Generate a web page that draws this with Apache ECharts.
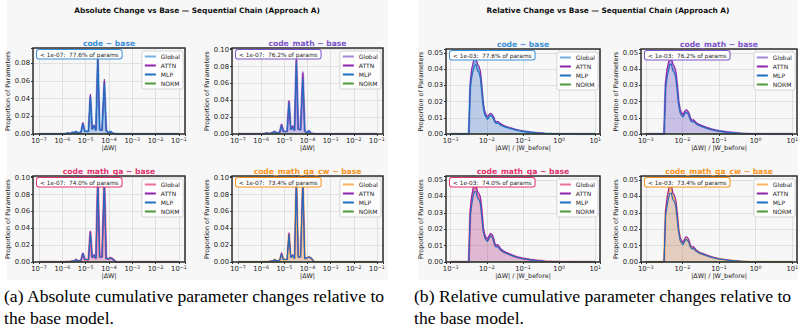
<!DOCTYPE html>
<html>
<head>
<meta charset="utf-8">
<script src="https://cdn.jsdelivr.net/npm/echarts@6/dist/echarts.min.js"></script>
<style>
  html, body { margin: 0; padding: 0; background: #fff; }
  #chart { width: 805px; height: 334px; }
</style>
</head>
<body>
<div id="chart"></div>
<script>
// bin centres as log10 of the x value
const ABS_BINS = [-7.0, -6.0, -5.9, -5.78, -5.66, -5.56, -5.48, -5.42, -5.34, -5.2, -5.12, -5.04, -4.88, -4.8,
  -4.72, -4.64, -4.56, -4.48, -4.4, -4.3, -4.2, -4.12, -4.02, -3.94, -3.86, -3.7, -3.0, -2.0, -1.0]
const REL_BINS = [-3.0, -2.6, -2.5, -2.46, -2.42, -2.38, -2.34, -2.3, -2.26, -2.22, -2.18, -2.14, -2.1, -2.06,
  -2.02, -1.98, -1.94, -1.9, -1.86, -1.82, -1.78, -1.74, -1.7, -1.66, -1.62, -1.56, -1.5, -1.4, -1.3, -1.2,
  -1.1, -1.0, -0.8, -0.6, -0.4, -0.2, 0.0, 0.2, 0.5, 1.0]

// absolute change |dW|
const ABS_CODE_GLOBAL = [0, 0, 0, 0.001, 0.0005, 0.002, 0.001, 0.003, 0.001, 0.002, 0.012, 0.003, 0.003, 0.043,
  0.005, 0.010, 0.004, 0.087, 0.005, 0.004, 0.059, 0.004, 0.001, 0.003, 0.001, 0, 0, 0, 0]
const ABS_CODE_ATTN = [0, 0, 0, 0.001, 0.0005, 0.002, 0.001, 0.003, 0.001, 0.002, 0.013, 0.003, 0.003, 0.045,
  0.005, 0.010, 0.004, 0.090, 0.005, 0.004, 0.062, 0.004, 0.001, 0.003, 0.001, 0, 0, 0, 0]
const ABS_CODE_MLP = [0, 0, 0, 0.001, 0.0005, 0.002, 0.001, 0.003, 0.001, 0.002, 0.011, 0.003, 0.003, 0.041,
  0.005, 0.009, 0.004, 0.084, 0.005, 0.004, 0.056, 0.004, 0.001, 0.003, 0.001, 0, 0, 0, 0]

const ABS_MATH_GLOBAL = [0, 0, 0, 0.001, 0.0005, 0.001, 0.002, 0.003, 0.001, 0.002, 0.011, 0.003, 0.003, 0.039,
  0.005, 0.009, 0.004, 0.088, 0.006, 0.005, 0.072, 0.004, 0.001, 0.004, 0.001, 0, 0, 0, 0]
const ABS_MATH_ATTN = [0, 0, 0, 0.001, 0.0005, 0.001, 0.002, 0.003, 0.001, 0.002, 0.012, 0.003, 0.003, 0.040,
  0.005, 0.010, 0.004, 0.090, 0.006, 0.005, 0.074, 0.004, 0.001, 0.004, 0.001, 0, 0, 0, 0]
const ABS_MATH_MLP = [0, 0, 0, 0.001, 0.0005, 0.001, 0.002, 0.003, 0.001, 0.002, 0.010, 0.003, 0.003, 0.037,
  0.005, 0.008, 0.004, 0.085, 0.006, 0.005, 0.066, 0.004, 0.001, 0.004, 0.001, 0, 0, 0, 0]

const ABS_QA_GLOBAL = [0, 0, 0, 0.0005, 0.0005, 0.001, 0.001, 0.003, 0.001, 0.002, 0.010, 0.003, 0.003, 0.036,
  0.005, 0.008, 0.004, 0.097, 0.006, 0.006, 0.096, 0.004, 0.004, 0.005, 0.004, 0, 0, 0, 0]
const ABS_QA_ATTN = [0, 0, 0, 0.0005, 0.0005, 0.001, 0.001, 0.003, 0.001, 0.002, 0.011, 0.003, 0.003, 0.037,
  0.005, 0.009, 0.004, 0.102, 0.006, 0.006, 0.101, 0.004, 0.004, 0.005, 0.004, 0, 0, 0, 0]
const ABS_QA_MLP = [0, 0, 0, 0.0005, 0.0005, 0.001, 0.001, 0.003, 0.001, 0.002, 0.010, 0.003, 0.003, 0.034,
  0.005, 0.008, 0.004, 0.093, 0.006, 0.006, 0.092, 0.004, 0.004, 0.005, 0.004, 0, 0, 0, 0]

const ABS_CW_GLOBAL = [0, 0, 0, 0.0005, 0.0005, 0.001, 0.001, 0.003, 0.001, 0.002, 0.010, 0.003, 0.003, 0.034,
  0.005, 0.008, 0.004, 0.098, 0.006, 0.006, 0.097, 0.004, 0.005, 0.006, 0.005, 0, 0, 0, 0]
const ABS_CW_ATTN = [0, 0, 0, 0.0005, 0.0005, 0.001, 0.001, 0.003, 0.001, 0.002, 0.011, 0.003, 0.003, 0.035,
  0.005, 0.009, 0.004, 0.102, 0.006, 0.006, 0.102, 0.004, 0.005, 0.006, 0.005, 0, 0, 0, 0]
const ABS_CW_MLP = [0, 0, 0, 0.0005, 0.0005, 0.001, 0.001, 0.003, 0.001, 0.002, 0.009, 0.003, 0.003, 0.032,
  0.005, 0.008, 0.004, 0.094, 0.006, 0.006, 0.093, 0.004, 0.005, 0.006, 0.005, 0, 0, 0, 0]

const ABS_NORM = [0, 0, 0, 0, 0, 0, 0, 0, 0, 0, 0, 0, 0, 0, 0, 0, 0, 0, 0, 0, 0, 0, 0, 0, 0, 0, 0, 0, 0]

// relative change |dW| / |W_before|
const REL_CODE_GLOBAL = [0, 0, 0, 0.030, 0.038, 0.042, 0.046, 0.046, 0.041, 0.040, 0.037, 0.028, 0.018, 0.013,
  0.011, 0.0095, 0.011, 0.012, 0.0115, 0.010, 0.0078, 0.0068, 0.0072, 0.0066, 0.0058, 0.0051, 0.0046, 0.0039,
  0.0032, 0.0026, 0.0021, 0.0017, 0.0011, 0.0007, 0.0004, 0.0002, 0.0001, 0.00005, 0, 0]
const REL_CODE_ATTN = [0, 0, 0, 0.031, 0.040, 0.044, 0.0475, 0.047, 0.043, 0.042, 0.039, 0.030, 0.019, 0.014,
  0.012, 0.0105, 0.012, 0.0128, 0.0124, 0.011, 0.0085, 0.0074, 0.0078, 0.0072, 0.0063, 0.0056, 0.0050, 0.0042,
  0.0035, 0.0028, 0.0023, 0.0018, 0.0012, 0.0008, 0.0004, 0.0002, 0.0001, 0.00005, 0, 0]
const REL_CODE_MLP = [0, 0, 0, 0.028, 0.035, 0.039, 0.042, 0.043, 0.039, 0.038, 0.035, 0.026, 0.017, 0.012,
  0.0105, 0.009, 0.0105, 0.0115, 0.011, 0.0095, 0.0074, 0.0065, 0.0069, 0.0063, 0.0055, 0.0049, 0.0044, 0.0037,
  0.0031, 0.0025, 0.0020, 0.0016, 0.0010, 0.0006, 0.0003, 0.0002, 0.0001, 0.00005, 0, 0]

const REL_MATH_GLOBAL = [0, 0, 0, 0.030, 0.038, 0.042, 0.0465, 0.046, 0.041, 0.040, 0.037, 0.029, 0.019, 0.014,
  0.012, 0.011, 0.013, 0.014, 0.0135, 0.012, 0.009, 0.0078, 0.0082, 0.0074, 0.0065, 0.0057, 0.0051, 0.0043,
  0.0035, 0.0028, 0.0023, 0.0019, 0.0012, 0.0008, 0.0004, 0.0002, 0.0001, 0.00005, 0, 0]
const REL_MATH_ATTN = [0, 0, 0, 0.031, 0.040, 0.044, 0.048, 0.047, 0.043, 0.042, 0.039, 0.031, 0.020, 0.015,
  0.013, 0.012, 0.014, 0.015, 0.0145, 0.013, 0.0098, 0.0085, 0.0088, 0.0080, 0.0070, 0.0062, 0.0055, 0.0046,
  0.0038, 0.0030, 0.0025, 0.0020, 0.0013, 0.0008, 0.0005, 0.0002, 0.0001, 0.00005, 0, 0]
const REL_MATH_MLP = [0, 0, 0, 0.028, 0.035, 0.039, 0.043, 0.043, 0.039, 0.038, 0.035, 0.027, 0.018, 0.013,
  0.0115, 0.0105, 0.0125, 0.0133, 0.0128, 0.0115, 0.0086, 0.0074, 0.0078, 0.0070, 0.0062, 0.0054, 0.0048, 0.0041,
  0.0033, 0.0027, 0.0022, 0.0018, 0.0011, 0.0007, 0.0004, 0.0002, 0.0001, 0.00005, 0, 0]

const REL_QA_GLOBAL = [0, 0, 0, 0.030, 0.038, 0.043, 0.0465, 0.046, 0.041, 0.040, 0.038, 0.030, 0.020, 0.016,
  0.014, 0.013, 0.015, 0.0165, 0.016, 0.014, 0.0105, 0.0095, 0.0100, 0.0088, 0.0076, 0.0065, 0.0058, 0.0049,
  0.0040, 0.0032, 0.0026, 0.0021, 0.0014, 0.0009, 0.0005, 0.0003, 0.00015, 0.00005, 0, 0]
const REL_QA_ATTN = [0, 0, 0, 0.031, 0.040, 0.045, 0.048, 0.047, 0.043, 0.042, 0.040, 0.032, 0.021, 0.017,
  0.015, 0.014, 0.016, 0.0175, 0.017, 0.015, 0.0112, 0.0102, 0.0107, 0.0094, 0.0081, 0.0070, 0.0062, 0.0052,
  0.0043, 0.0034, 0.0028, 0.0022, 0.0015, 0.0009, 0.0005, 0.0003, 0.00015, 0.00005, 0, 0]
const REL_QA_MLP = [0, 0, 0, 0.028, 0.035, 0.040, 0.043, 0.043, 0.039, 0.038, 0.036, 0.028, 0.019, 0.015,
  0.0135, 0.0125, 0.0145, 0.016, 0.0155, 0.0135, 0.010, 0.0091, 0.0096, 0.0085, 0.0073, 0.0063, 0.0056, 0.0047,
  0.0039, 0.0031, 0.0025, 0.0020, 0.0013, 0.0008, 0.0005, 0.0003, 0.00015, 0.00005, 0, 0]

const REL_CW_GLOBAL = [0, 0, 0, 0.030, 0.037, 0.042, 0.046, 0.0455, 0.040, 0.039, 0.036, 0.028, 0.019, 0.014,
  0.012, 0.011, 0.013, 0.0145, 0.014, 0.0125, 0.0095, 0.0084, 0.0088, 0.0078, 0.0068, 0.0059, 0.0053, 0.0045,
  0.0037, 0.0030, 0.0024, 0.0019, 0.0013, 0.0008, 0.0004, 0.0002, 0.0001, 0.00005, 0, 0]
const REL_CW_ATTN = [0, 0, 0, 0.031, 0.039, 0.044, 0.0475, 0.047, 0.042, 0.041, 0.038, 0.030, 0.020, 0.015,
  0.013, 0.012, 0.014, 0.0155, 0.015, 0.0135, 0.0102, 0.0090, 0.0094, 0.0083, 0.0072, 0.0063, 0.0056, 0.0048,
  0.0039, 0.0032, 0.0026, 0.0020, 0.0014, 0.0008, 0.0005, 0.0002, 0.0001, 0.00005, 0, 0]
const REL_CW_MLP = [0, 0, 0, 0.028, 0.034, 0.039, 0.042, 0.042, 0.038, 0.037, 0.034, 0.026, 0.018, 0.013,
  0.0115, 0.0105, 0.0125, 0.0138, 0.0133, 0.0118, 0.009, 0.008, 0.0084, 0.0074, 0.0065, 0.0056, 0.0050, 0.0043,
  0.0035, 0.0028, 0.0023, 0.0018, 0.0012, 0.0007, 0.0004, 0.0002, 0.0001, 0.00005, 0, 0]

const REL_NORM = [0, 0, 0, 0, 0, 0, 0, 0, 0, 0, 0, 0, 0, 0, 0, 0, 0, 0, 0, 0,
  0, 0, 0, 0, 0, 0, 0, 0, 0, 0, 0, 0, 0, 0, 0, 0, 0, 0, 0, 0]

const RUN_TITLES = ['code \u2212 base', 'code_math \u2212 base', 'code_math_qa \u2212 base', 'code_math_qa_cw \u2212 base']
const BELOW_PCT = ['77.6', '76.2', '74.0', '73.4']
const COMPONENTS = ['Global', 'ATTN', 'MLP', 'NORM']
const ABS_YMAX = [0.097, 0.102, 0.102, 0.102]
const REL_YMAX = [0.0525, 0.0525, 0.0525, 0.0525]

const RUN_COLORS = ['#3b8fd8', '#7b55c8', '#e2336e', '#f7941d']
const ATTN_COLOR = '#8e24aa'
const MLP_COLOR = '#1f6fbf'
const NORM_COLOR = '#4e9a3a'
const FONT = 'DejaVu Sans'

const absRuns = [
  [ABS_CODE_GLOBAL, ABS_CODE_ATTN, ABS_CODE_MLP, ABS_NORM],
  [ABS_MATH_GLOBAL, ABS_MATH_ATTN, ABS_MATH_MLP, ABS_NORM],
  [ABS_QA_GLOBAL, ABS_QA_ATTN, ABS_QA_MLP, ABS_NORM],
  [ABS_CW_GLOBAL, ABS_CW_ATTN, ABS_CW_MLP, ABS_NORM],
]
const relRuns = [
  [REL_CODE_GLOBAL, REL_CODE_ATTN, REL_CODE_MLP, REL_NORM],
  [REL_MATH_GLOBAL, REL_MATH_ATTN, REL_MATH_MLP, REL_NORM],
  [REL_QA_GLOBAL, REL_QA_ATTN, REL_QA_MLP, REL_NORM],
  [REL_CW_GLOBAL, REL_CW_ATTN, REL_CW_MLP, REL_NORM],
]

const panels = [
  {
    bins: ABS_BINS, runs: absRuns, ymax: ABS_YMAX, yStep: 0.02, xmin: -7.26, xmax: -0.74,
    xName: '|\u0394W|', thr: '1e-07',
    boxes: [[33, 48, 152, 86], [232, 48, 151, 86], [33, 176, 152, 86], [232, 176, 151, 86]],
  },
  {
    bins: REL_BINS, runs: relRuns, ymax: REL_YMAX, yStep: 0.01, xmin: -3.13, xmax: 1.13,
    xName: '|\u0394W| / |W_before|', thr: '1e-03',
    boxes: [[446, 49, 154, 85], [641, 49, 156, 85], [446, 176, 154, 86], [641, 176, 156, 86]],
  },
]

const powLabel = (v) => {
  const e = Math.log10(v)
  const n = Math.round(e)
  if (Math.abs(e - n) > 1e-6) return ''
  return '10{s|' + (n < 0 ? '\u2212' + (-n) : String(n)) + '}'
}

const grid = [], xAxis = [], yAxis = [], series = [], legend = []
const graphic = [
  { type: 'rect', shape: { x: 7, y: 0, width: 381, height: 280 }, style: { fill: '#f7f7f7' }, z: -10 },
  { type: 'rect', shape: { x: 418, y: 0, width: 380, height: 280 }, style: { fill: '#f7f7f7' }, z: -10 },
  { type: 'text', x: 197, y: 10, style: { text: 'Absolute Change vs Base \u2014 Sequential Chain (Approach A)',
    fontFamily: FONT, fontWeight: 'bold', fontSize: 7.4, fill: '#111', align: 'center', verticalAlign: 'middle' } },
  { type: 'text', x: 608, y: 10, style: { text: 'Relative Change vs Base \u2014 Sequential Chain (Approach A)',
    fontFamily: FONT, fontWeight: 'bold', fontSize: 7.4, fill: '#111', align: 'center', verticalAlign: 'middle' } },
  { type: 'text', x: 4, y: 285, style: { text: '(a) Absolute cumulative parameter changes relative to\nthe base model.',
    fontFamily: 'Liberation Serif', fontSize: 17.6, lineHeight: 22, fill: '#000' } },
  { type: 'text', x: 414, y: 285, style: { text: '(b) Relative cumulative parameter changes relative to\nthe base model.',
    fontFamily: 'Liberation Serif', fontSize: 17.6, lineHeight: 22, fill: '#000' } },
]

let k = 0
panels.forEach((p) => {
  p.boxes.forEach(([left, top, width, height], r) => {
    const runColor = RUN_COLORS[r]
    const colors = [runColor, ATTN_COLOR, MLP_COLOR, NORM_COLOR]
    grid.push({
      left, top, width, height, show: true, z: 5, outerBoundsMode: 'none',
      backgroundColor: 'rgba(0,0,0,0)', borderColor: '#2e2e2e', borderWidth: 1.5,
    })
    xAxis.push({
      gridIndex: k, type: 'log', logBase: 10,
      min: Math.pow(10, p.xmin), max: Math.pow(10, p.xmax),
      axisLine: { show: false },
      axisTick: { show: true, length: 2, lineStyle: { color: '#333' } },
      axisLabel: {
        fontSize: 6.8, color: '#222', margin: 3, formatter: powLabel,
        rich: { s: { fontSize: 4.8, color: '#222', verticalAlign: 'top', lineHeight: 5 } },
      },
      splitLine: { show: true, lineStyle: { color: '#dcdcdc', width: 0.9 } },
      name: p.xName, nameLocation: 'middle', nameGap: 10,
      nameTextStyle: { fontSize: 6.4, color: '#222' },
    })
    yAxis.push({
      gridIndex: k, type: 'value', min: 0, max: p.ymax[r], interval: p.yStep,
      axisLine: { show: false },
      axisTick: { show: true, length: 2, lineStyle: { color: '#333' } },
      axisLabel: {
        fontSize: 6.8, color: '#222', margin: 3,
        formatter: (v) => (Math.abs(v / p.yStep - Math.round(v / p.yStep)) < 1e-6 ? v.toFixed(2) : ''),
      },
      splitLine: { show: true, lineStyle: { color: '#dcdcdc', width: 0.9 } },
      name: 'Proportion of Parameters', nameLocation: 'middle', nameGap: 21, nameRotate: 90,
      nameTextStyle: { fontSize: 6.4, color: '#222' },
    })
    p.runs[r].forEach((vals, c) => {
      const isGlobal = c === 0
      series.push({
        name: COMPONENTS[c], type: 'line', xAxisIndex: k, yAxisIndex: k,
        data: p.bins.map((e, i) => [Math.pow(10, e), vals[i]]),
        symbol: 'none', silent: true, clip: true,
        lineStyle: { color: colors[c], width: isGlobal ? 2.4 : 1.1, opacity: isGlobal ? 0.6 : 1 },
        areaStyle: c < 3 ? { color: colors[c], opacity: isGlobal ? 0.24 : 0.06 } : undefined,
        itemStyle: { color: colors[c] },
      })
    })
    legend.push({
      orient: 'vertical', right: 805 - (left + width) + 2, top: top + 3,
      icon: 'rect', itemWidth: 11, itemHeight: 2, itemGap: 2, padding: [2, 3],
      backgroundColor: 'rgba(255,255,255,0.85)', borderColor: '#cccccc', borderWidth: 0.8, borderRadius: 2,
      textStyle: { fontSize: 6, color: '#222', lineHeight: 7 }, selectedMode: false, z: 6,
      data: COMPONENTS.map((n, c) => ({ name: n, itemStyle: { color: colors[c], opacity: c === 0 ? 0.7 : 1, borderWidth: 0 } })),
    })
    graphic.push({
      type: 'text', x: left + (width / 2), y: top - 4.5, z: 6,
      style: { text: RUN_TITLES[r], fontFamily: FONT, fontWeight: 'bold', fontSize: 7.6, fill: runColor,
        align: 'center', verticalAlign: 'middle' },
    })
    graphic.push({
      type: 'text', x: left + 4, y: top + 2, z: 6,
      style: { text: '< ' + p.thr + ':  ' + BELOW_PCT[r] + '% of params', fontFamily: FONT, fontSize: 5.8, fill: '#222',
        backgroundColor: '#fff', borderColor: runColor, borderWidth: 1, borderRadius: 2, padding: [1.5, 3, 1, 3] },
    })
    k++
  })
})

const chart = echarts.init(document.getElementById('chart'), null, { renderer: 'svg' })
chart.setOption({
  animation: false,
  backgroundColor: '#fff',
  textStyle: { fontFamily: FONT },
  grid, xAxis, yAxis, series, legend, graphic,
})
</script>
</body>
</html>
